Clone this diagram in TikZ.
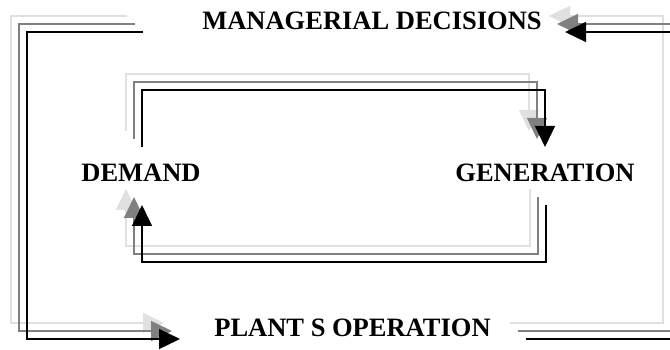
\documentclass[tikz,border=0pt]{standalone}
\usepackage{fontspec}
\setmainfont{Liberation Serif}
\usetikzlibrary{arrows.meta}
\definecolor{lgc}{gray}{0.88}
\definecolor{mgc}{gray}{0.50}
\tikzset{
  lbl/.style={font=\fontsize{26.5}{30}\selectfont\bfseries, text=black, anchor=base, inner sep=0pt},
  conn/.style={line width=1.3pt, -{Triangle[length=21pt,width=20pt]}},
  plain/.style={line width=1.3pt}
}
\begin{document}
\begin{tikzpicture}[x=1pt,y=-1pt]
\clip (0,0) rectangle (670,350);
\fill[white] (0,0) rectangle (670,350);
% labels
\node[lbl] (md)  at (372,30)  {MANAGERIAL DECISIONS};
\node[lbl] (dem) at (141,182) {DEMAND};
\node[lbl] (gen) at (545,182) {GENERATION};
\node[lbl] (pso) at (352.5,336) {PLANT S OPERATION};
% connector end points
\coordinate (olS) at (143,32);   \coordinate (olE) at (180,339);
\coordinate (orS) at (526,339);  \coordinate (orE) at (565,32);
\coordinate (itS) at (142,147);  \coordinate (itE) at (545,147);
\coordinate (ibS) at (546,205);  \coordinate (ibE) at (142,205);
% connectors with shadow copies (light grey, grey, black)
\foreach \d/\c in {16/lgc,8/mgc,0/black}{
  % MANAGERIAL DECISIONS -> PLANT S OPERATION
  \draw[conn, draw=\c] ([shift={(-\d,-\d)}]olS) -- ++(-116,0) |- ([shift={(-\d,-\d)}]olE);
  % PLANT S OPERATION -> MANAGERIAL DECISIONS
  \draw[conn, draw=\c] ([shift={(-\d,-\d)}]orS) -- ++(153,0) |- ([shift={(-\d,-\d)}]orE);
  % DEMAND -> GENERATION
  \draw[conn, draw=\c] ([shift={(-\d,-\d)}]itS) -- ++(0,-57) -| ([shift={(-\d,-\d)}]itE);
  % GENERATION -> DEMAND
  \draw[conn, draw=\c] ([shift={(-\d,-\d)}]ibS) -- ++(0,57) -| ([shift={(-\d,-\d)}]ibE);
}
\end{tikzpicture}
\end{document}
